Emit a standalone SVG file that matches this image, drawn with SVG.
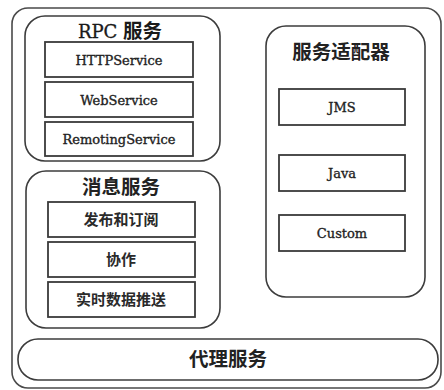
<svg xmlns="http://www.w3.org/2000/svg" width="444" height="390" viewBox="0 0 444 390">
  <style>
    .frame { fill: #fff; stroke: #4a4a4a; stroke-width: 1.6; }
    .group { fill: #fff; stroke: #3c3c3c; stroke-width: 1.6; }
    .item { fill: #fff; stroke: #3a3a3a; stroke-width: 1.8; }
    .lat { font-family: "DejaVu Serif", "Liberation Serif", serif; font-size: 13px; fill: #222; stroke: #222; stroke-width: 0.35; text-anchor: middle; }
    .cjk { font-family: "Noto Sans CJK SC", "Noto Sans CJK JP", sans-serif; font-size: 15px; font-weight: bold; fill: #2a2a2a; text-anchor: middle; }
    .title { font-family: "DejaVu Serif", "Noto Sans CJK SC", serif; font-size: 18px; fill: #1a1a1a; stroke: #1a1a1a; stroke-width: 0.3; text-anchor: middle; }
    .titlecjk { font-family: "Noto Sans CJK SC", "Noto Sans CJK JP", sans-serif; font-size: 19.5px; font-weight: bold; fill: #222; text-anchor: middle; }
  </style>
  <rect width="444" height="390" fill="#fff"/>

  <!-- outer frame -->
  <rect class="frame" x="12" y="8" width="429" height="380" rx="16"/>

  <!-- RPC services -->
  <g id="rpc">
    <rect class="group" x="25" y="16" width="195" height="145" rx="20"/>
    <text class="title" x="120" y="38">RPC <tspan font-family="Noto Sans CJK SC, sans-serif" font-weight="bold" font-size="19.5" stroke="none">服务</tspan></text>
  </g>
  <g id="http-service">
    <rect class="item" x="45" y="42" width="148" height="35"/>
    <text class="lat" x="119" y="64.5">HTTPService</text>
  </g>
  <g id="web-service">
    <rect class="item" x="45" y="82" width="148" height="35"/>
    <text class="lat" x="119" y="104.5">WebService</text>
  </g>
  <g id="remoting-service">
    <rect class="item" x="45" y="122" width="148" height="34"/>
    <text class="lat" x="119" y="144">RemotingService</text>
  </g>

  <!-- messaging services -->
  <g id="messaging">
    <rect class="group" x="26" y="171" width="194" height="157" rx="20"/>
    <text class="titlecjk" x="121" y="194">消息服务</text>
  </g>
  <g id="publish-subscribe">
    <rect class="item" x="48" y="202" width="147" height="35"/>
    <text class="cjk" x="121" y="225">发布和订阅</text>
  </g>
  <g id="collaboration">
    <rect class="item" x="48" y="242" width="147" height="35"/>
    <text class="cjk" x="121" y="265">协作</text>
  </g>
  <g id="realtime-push">
    <rect class="item" x="48" y="282" width="147" height="35"/>
    <text class="cjk" x="121" y="305">实时数据推送</text>
  </g>

  <!-- service adapters -->
  <g id="adapters">
    <rect class="group" x="266" y="26" width="159" height="271" rx="20"/>
    <text class="titlecjk" x="341" y="59">服务适配器</text>
  </g>
  <g id="jms">
    <rect class="item" x="279" y="89" width="126" height="36"/>
    <text class="lat" x="342" y="111.5">JMS</text>
  </g>
  <g id="java">
    <rect class="item" x="279" y="155" width="126" height="36"/>
    <text class="lat" x="342" y="177.5">Java</text>
  </g>
  <g id="custom">
    <rect class="item" x="279" y="215" width="126" height="36"/>
    <text class="lat" x="342" y="237.5">Custom</text>
  </g>

  <!-- proxy service -->
  <g id="proxy">
    <rect class="group" x="18" y="339" width="420" height="41" rx="20"/>
    <text class="titlecjk" x="228" y="366">代理服务</text>
  </g>

  <g id="connectors"></g>
</svg>
